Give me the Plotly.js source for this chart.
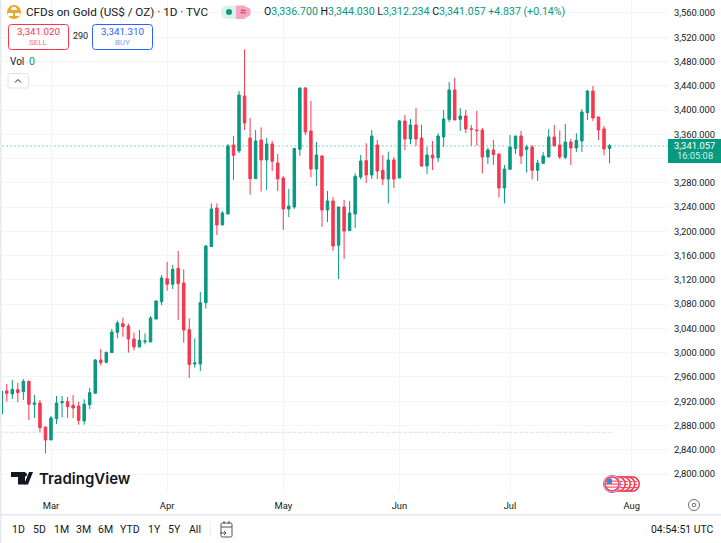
<!DOCTYPE html>
<html><head><meta charset="utf-8">
<script src="https://cdn.plot.ly/plotly-3.0.1.min.js"></script>
<style>html,body{margin:0;padding:0;background:#fff}#c{width:721px;height:543px}</style>
</head><body><div id="c"></div>
<script>
const open_=[2899,2936.9,2931.9,2939.1,2935.8,2952.8,2914.9,2917.1,2877.5,2856.1,2891.3,2917.6,2919.3,2913.2,2912.1,2887.4,2914.3,2933,2988,2984.1,3000.1,3033.6,3047.9,3044,3022.6,3009.4,3018.2,3017.6,3055.5,3084.1,3122,3112.7,3139.1,3114.9,3038,2981.4,2981.4,3082.5,3175,3238.5,3210.5,3228.6,3342.4,3332.5,3423.2,3353.9,3286.9,3350.6,3317.7,3344,3312.7,3288,3236.9,3240.2,3335.3,3436.4,3365.5,3302.8,3324.3,3235.2,3250.1,3177,3240.2,3201.2,3228.6,3289.6,3316.6,3293,3342.4,3300.6,3286.3,3317.7,3288,3382,3352.3,3375.4,3353.9,3307.8,3325.9,3321.5,3355.6,3384.7,3433.1,3384.7,3390.2,3369,3367.1,3367.1,3322.6,3334.2,3327.6,3271.5,3302.3,3336.4,3357.2,3335.3,3339.1,3300.6,3312.2,3322.6,3355.6,3342.4,3322.1,3347.3,3337.5,3349,3395.7,3431.4,3388.6,3368.8,3336.7];
const high=[2937,2948.4,2955,2950.6,2956.6,2953.9,2930.3,2922,2877.5,2895.7,2928.6,2928.6,2927,2930.3,2919.3,2923.1,2941.8,2989.6,3006.1,3001.7,3039.1,3052.8,3057.8,3047.9,3033,3037.4,3031.9,3060.5,3086.3,3128.1,3149.5,3144.6,3167.7,3137.4,3056.6,3023.7,3100.1,3177.5,3246.2,3246.2,3233.6,3344,3357.2,3431.4,3500.1,3386.9,3367.1,3371.5,3354,3349,3327.6,3291.3,3269.9,3338,3436.4,3438,3415,3347.3,3325.9,3266.6,3256.7,3240.2,3251.7,3250.1,3295.7,3325.9,3345.2,3367.1,3350.6,3325.9,3331.4,3322.6,3383.6,3391.9,3385.3,3403.4,3375.9,3339.1,3349,3361.6,3400.1,3446.3,3452.8,3403.4,3400.1,3375.4,3398.5,3370.4,3337.5,3350.6,3327.6,3309.4,3358.9,3357.2,3366,3342.4,3342.4,3317.7,3330.9,3368.8,3375.4,3366.6,3377,3352.3,3361.6,3401.7,3433.1,3439.7,3388.6,3373.7,3344.03];
const low=[2899,2919.3,2923.7,2918.7,2922,2889.1,2892.4,2868.7,2834.1,2856.1,2882.5,2893.5,2892.4,2892.4,2881.4,2881.4,2907.2,2933,2978.6,2982.5,3000.1,3023.7,3026.4,3000.1,3003.9,3008.8,3013.8,3017.6,3055,3078.1,3102.3,3105,3053.9,3016.5,2958.3,2975.3,2969.8,3072.6,3174,3194,3210.5,3228.6,3284.7,3329.2,3367.1,3260.5,3286.9,3265.5,3268.2,3299.5,3266.6,3202.3,3223.7,3236.9,3324.3,3358.9,3289.6,3274.8,3207.2,3215.5,3167.6,3121.5,3154.5,3201.2,3205.6,3285.8,3279.8,3286.3,3286.3,3276.4,3246.2,3271.5,3288,3334.1,3344,3340.8,3306.1,3294.6,3301.2,3314.4,3339.1,3380.3,3383.6,3365.5,3362.2,3341.3,3341.3,3295.7,3311.1,3309.4,3255.6,3246.2,3301.2,3327.6,3311.1,3296.8,3285.8,3283,3311.1,3322.6,3340.8,3319.3,3319.3,3309.4,3330.9,3330.9,3383.6,3382,3350.6,3325.4,3312.234];
const close_=[2936.9,2933,2939.6,2934.1,2952.8,2914.9,2917.1,2876.4,2856.1,2892.4,2917.1,2919.3,2911,2908.8,2888.5,2915.4,2934.1,2988,2983.6,3000.6,3034.1,3049,3042.9,3022.6,3009.4,3020.4,3019.3,3057.2,3085.2,3123.1,3112.7,3137.4,3113.8,3037.4,2980.3,2983,3082.5,3175.9,3236.9,3210.5,3230.3,3340.8,3325.4,3424.8,3378.7,3286.9,3349,3317.7,3344,3315.5,3286.3,3236.9,3241.8,3336.4,3436.4,3363.8,3302.8,3325.9,3235.2,3250.1,3175.9,3240.2,3200.6,3230.3,3290.7,3316,3293,3357.2,3299.5,3286.3,3317.7,3286.3,3382,3352.3,3375.4,3352.3,3307.8,3325.9,3321,3357.2,3385.3,3433.1,3383.6,3390.2,3368.8,3368.2,3366,3322.6,3334.2,3326.5,3271.5,3302.8,3339.1,3357.2,3324.3,3339.1,3300.6,3312.7,3324.3,3355.6,3340.8,3322.6,3347.3,3337.5,3350.1,3396.8,3431.4,3386.9,3367.1,3335.8,3341.057];
const priceTicks=[3560,3520,3480,3440,3400,3360,3280,3240,3200,3160,3120,3080,3040,3000,2960,2920,2880,2840,2800];
const gridTicks=[3560,3520,3480,3440,3400,3360,3320,3280,3240,3200,3160,3120,3080,3040,3000,2960,2920,2880,2840,2800];
const monthLabels=['Mar','Apr','May','Jun','Jul','Aug'];
const monthBars=[9,30,51,72,92,114];
const ranges=['1D','5D','1M','3M','6M','YTD','1Y','5Y','All'];
const rangeX=[18,39.5,61,83,105,130,154,174,195];
const lastPrice=3341.057, sellPrice='3,341.020', buyPrice='3,341.310', spread='290';

const GREEN='#089981',RED='#f7374f',TXT='#131722',GRID='#f3f4f6';
const F='Roboto, sans-serif';
const L=2,R=668,T=0,B=493;
const px=x=>(x-L)/(R-L), py=y=>1-(y-T)/(B-T);
const idx=open_.map((_,i)=>i);

const shapes=[], anns=[];
function txt(x,y,t,size,color,anchor,extra){anns.push(Object.assign({xref:'paper',yref:'paper',x:px(x),y:py(y),text:t,showarrow:false,xanchor:anchor||'left',yanchor:'middle',borderpad:0,font:{family:F,size:size,color:color||TXT}},extra||{}));}
function rr(x0,y0,x1,y1,r,fill,line,w){const X=px,Y=py;const d=`M${X(x0+r)},${Y(y0)}L${X(x1-r)},${Y(y0)}Q${X(x1)},${Y(y0)} ${X(x1)},${Y(y0+r)}L${X(x1)},${Y(y1-r)}Q${X(x1)},${Y(y1)} ${X(x1-r)},${Y(y1)}L${X(x0+r)},${Y(y1)}Q${X(x0)},${Y(y1)} ${X(x0)},${Y(y1-r)}L${X(x0)},${Y(y0+r)}Q${X(x0)},${Y(y0)} ${X(x0+r)},${Y(y0)}Z`;
 shapes.push({type:'path',xref:'paper',yref:'paper',path:d,fillcolor:fill||'rgba(0,0,0,0)',line:{color:line||'rgba(0,0,0,0)',width:line?(w||1):0},layer:'above'});}
function poly(pts,fill,line,w){const d=pts.map((p,i)=>(i?'L':'M')+px(p[0])+','+py(p[1])).join('')+(fill?'Z':'');
 shapes.push({type:'path',xref:'paper',yref:'paper',path:d,fillcolor:fill||'rgba(0,0,0,0)',line:{color:line||'rgba(0,0,0,0)',width:line?(w||1):0},layer:'above'});}
function circ(cx,cy,r,fill,line,w){shapes.push({type:'circle',xref:'paper',yref:'paper',x0:px(cx-r),x1:px(cx+r),y0:py(cy+r),y1:py(cy-r),fillcolor:fill||'rgba(0,0,0,0)',line:{color:line||'rgba(0,0,0,0)',width:line?(w||1):0},layer:'above'});}

shapes.push({type:'line',xref:'paper',yref:'y',x0:0,x1:1,y0:lastPrice,y1:lastPrice,line:{color:'#9edcce',width:1.2,dash:'2px,2px'},layer:'below'});
poly([[0,0],[1.5,0],[1.5,543],[0,543]],'#e9eaee');
poly([[0,514],[721,514],[721,515.5],[0,515.5]],'#e4e6ec');
poly([[210,522],[210.7,522],[210.7,537],[210,537]],'#e4e6ec');

circ(14,12,7,'#e9a830');
poly([[12,7],[16,7],[17,10],[11,10]],'#fff');
poly([[8,13],[13,13],[13,16],[8,16]],'#fff');
poly([[15,13],[20,13],[20,16],[15,16]],'#fff');
txt(25,12,'CFDs on Gold (US$ / OZ) · 1D · TVC',11.7,TXT);
rr(221,5.5,240,19,6.5,'#dcf1ec');
poly([[236,5.5],[244,5.5],[250.5,9],[250.5,15],[244,19],[236,19]],'#f5a6c0');
circ(229,12,3,GREEN);
txt(243,12,'≈',11,'#e0294a','center');
const v=s=>`<span style="color:${GREEN}">${s}</span>`;
txt(263,12,`O${v('3,336.700')} H${v('3,344.030')} L${v('3,312.234')} C${v('3,341.057')} ${v('+4.837 (+0.14%)')}`,10.6,TXT);
rr(8.5,24.5,68.5,49.5,3,'#fff',RED,1);
txt(38.5,31.5,sellPrice,9.8,RED,'center');
txt(38.5,42.5,'SELL',8,'#f77b8a','center');
txt(80,36,spread,9,TXT,'center');
rr(92.5,24.5,152.5,49.5,3,'#fff','#2962ff',1);
txt(122.5,31.5,buyPrice,9.8,'#2962ff','center');
txt(122.5,42.5,'BUY',8,'#7f9fff','center');
txt(9,61,'Vol',10,TXT);
txt(28,61,'0',10.5,GREEN);
rr(8,73.5,28.5,88,2,'#fff','#e0e3eb',1);
poly([[15,82.5],[18,79.5],[21,82.5]],null,TXT,1);

poly([[668,139],[721,139],[721,163],[668,163]],GREEN);
txt(694.5,145.5,'3,341.057',9.4,'#fff','center');
txt(694.5,156,'16:05:08',9.4,'#d5efe9','center');

poly([[11,472],[25,472],[25,484.5],[18,484.5],[18,477],[11,477]],TXT);
poly([[24,484.5],[29,472],[33,472],[28,484.5]],TXT);
circ(25,474.5,2,TXT);
txt(38,478,'TradingView',15,TXT,'left',{font:{family:'Inter, sans-serif',size:15,color:TXT,weight:600}});

[632,627.5,623,618].forEach(cx=>{circ(cx,484,7.2,'#fff',RED,1.6);
 [481,484,487].forEach(y=>poly([[cx-5,y],[cx+5,y],[cx+5,y+1.1],[cx-5,y+1.1]],'#f7525f'));});
circ(612,484,8.6,'#fff','#b56be0',1);
circ(612,484,7,'#fff',RED,1.6);
[480.5,483.5,486.5].forEach(y=>poly([[606,y],[618,y],[618,y+1.2],[606,y+1.2]],'#f7525f'));
poly([[607,478.5],[612,478.5],[612,484],[606.5,484]],'#4c7fd8');

circ(694,505,5.5,'#fff','#6a6d78',1);
circ(694,505,1.8,'#fff','#6a6d78',1);

ranges.forEach((r,i)=>txt(rangeX[i],529,r,10.5,TXT,'center'));
rr(221,523,232,537,1.2,null,'#50535e',1);
poly([[221,527],[232,527]],null,'#50535e',1);
poly([[224,521],[224,524]],null,'#50535e',1);
poly([[229,521],[229,524]],null,'#50535e',1);
poly([[220,533],[226,533]],null,'#50535e',1);
poly([[224,531],[226,533],[224,535]],null,'#50535e',1);
txt(714,529,'04:54:51 UTC',10.4,TXT,'right');

const volBase=2868.0;
const traces=[
 {type:'bar',x:idx,y:idx.map(()=>1.6),base:volBase,width:0.72,hoverinfo:'skip',
  marker:{color:idx.map(i=>close_[i]>=open_[i]?'#c9e9e2':'#fcd3d8'),line:{width:0}}},
 {type:'candlestick',x:idx,open:open_,high:high,low:low,close:close_,whiskerwidth:0,
  increasing:{line:{color:GREEN,width:1},fillcolor:GREEN},
  decreasing:{line:{color:RED,width:1},fillcolor:RED},hoverinfo:'skip'}
];
const layout={
 width:721,height:543,paper_bgcolor:'#fff',plot_bgcolor:'#fff',showlegend:false,
 margin:{l:L,r:721-R,t:T,b:543-B,pad:0},boxgap:0.36,barmode:'overlay',
 font:{family:F,size:10,color:TXT},
 xaxis:{type:'linear',range:[0.14,120.57],tickmode:'array',tickvals:monthBars,ticktext:monthLabels,
  showgrid:true,gridcolor:GRID,gridwidth:1,zeroline:false,showline:false,ticks:'outside',ticklen:4,tickcolor:'rgba(0,0,0,0)',
  tickfont:{family:F,size:9.4,color:TXT},rangeslider:{visible:false},fixedrange:true},
 yaxis:{side:'right',range:[2768.7,3581.4],tickmode:'array',tickvals:gridTicks,
  ticktext:gridTicks.map(p=>priceTicks.includes(p)?p.toLocaleString('en-US',{minimumFractionDigits:3}):''),
  showgrid:true,gridcolor:GRID,gridwidth:1,zeroline:false,showline:false,ticks:'outside',ticklen:3,tickcolor:'rgba(0,0,0,0)',
  tickfont:{family:F,size:9.4,color:TXT},fixedrange:true},
 shapes:shapes,annotations:anns
};
Plotly.newPlot('c',traces,layout,{displayModeBar:false,staticPlot:true});
</script></body></html>
